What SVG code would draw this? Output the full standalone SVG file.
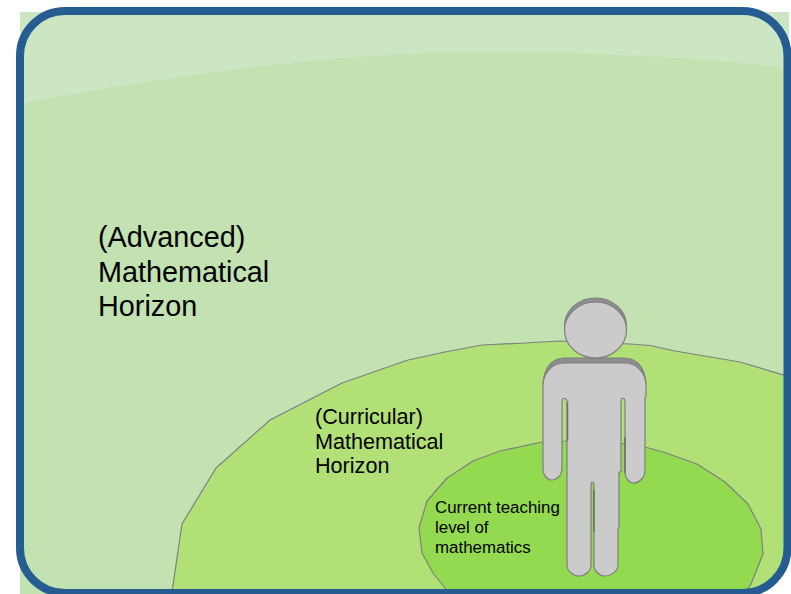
<svg xmlns="http://www.w3.org/2000/svg" width="791" height="594" viewBox="0 0 791 594">
<defs><clipPath id="inside"><rect x="20" y="11" width="767.5" height="582" rx="45"/></clipPath></defs>
<style>
text{font-family:"Liberation Sans",Arial,sans-serif;fill:#000}
.edge{stroke:#7f7f7f;stroke-width:1.2;stroke-linejoin:round}
.person{fill:#cbcbcb;stroke:#7f7f7f;stroke-width:1.2}
.back{fill:#8f8f8f;stroke:#7f7f7f;stroke-width:1.2}
</style>
<rect width="791" height="594" fill="#fff"/>
<path d="M20 12H789V550L745 594H20Z" fill="#c2e2b1"/>
<path id="gloss" d="M20 104C130 82 290 58 430 53C560 50 680 56 789 68V12H20Z" fill="#cce5c3"/>
<g id="curricular-horizon">
<path class="edge" clip-path="url(#inside)" d="M172 592L182 524L216 468L270 420L342 383L408 360L445 352L482 345L525 343L560 341L630 344L650 345.5L675 351L740 362L790 377V594H172Z" fill="#b1e077"/>
<text font-size="21.6"><tspan x="315" y="423.5">(Curricular)</tspan><tspan x="315" y="449">Mathematical</tspan><tspan x="315" y="473">Horizon</tspan></text>
</g>
<g id="current-level">
<path class="edge" clip-path="url(#inside)" d="M448 592L433 573L422 553L419 528L427 501L447 478L473 461L500 451L542 442L600 440L645 447L663 452L697 464L725 482L748 504L761 529L763 554L751 584L746 592Z" fill="#94da50"/>
<text font-size="16.9"><tspan x="435" y="513">Current teaching</tspan><tspan x="435" y="533">level of</tspan><tspan x="435" y="553">mathematics</tspan></text>
</g>
<g id="person">
<ellipse class="back" cx="595.5" cy="326" rx="31" ry="28"/>
<path class="back" d="M543 384C544 368 552 358 565 358H624C637 358 645 368 646 384Z"/>
<ellipse class="person" cx="595.5" cy="330" rx="31" ry="28"/>
<path class="person" d="M543 384C544 372 552 363 565 363H624C637 363 645 372 646 384V396L645 398V470C645 478 639 483 634 483C629 483 625 478 625 472V402C625 397 621 397 621 402V472H619V528H618V565C618 572 610 576 605 576C599 576 594 571 594 565V485C594 481 591 481 591 485V565C591 571 585 576 579 576C573 576 567 571 567 565V402C567 397 562 397 562 402V468C562 476 556 480 552 480C547 480 543 475 543 469Z"/>
<path d="M594 490V532M567.5 402V441M625 437V473" fill="none" stroke="#6f6f6f" stroke-width="1.5"/>
</g>
<text id="advanced-label" font-size="28.8"><tspan x="98" y="247">(Advanced)</tspan><tspan x="98" y="281.500">Mathematical</tspan><tspan x="98" y="315.500">Horizon</tspan></text>
<rect id="frame-border" x="20" y="11" width="767.5" height="582" rx="45" fill="none" stroke="#255d92" stroke-width="8"/>
</svg>
